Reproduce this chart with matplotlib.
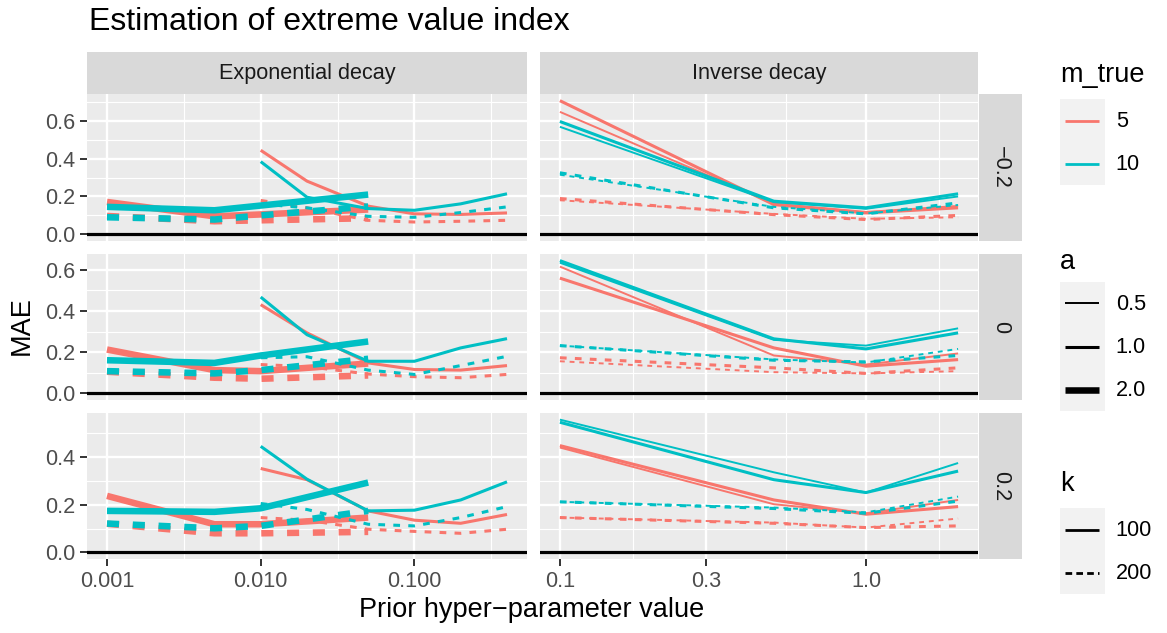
import matplotlib
matplotlib.use('Agg')
import matplotlib.pyplot as plt
import numpy as np
from matplotlib.lines import Line2D
from matplotlib.patches import Rectangle
from matplotlib.legend_handler import HandlerTuple, HandlerLine2D
from matplotlib.ticker import FixedLocator, NullFormatter

plt.rcParams['font.family'] = ['Liberation Sans', 'DejaVu Sans']

# ---- data (MAE by prior hyper-parameter value) ----
rows = ['\u22120.2', '0', '0.2']
cols = ['Exponential decay', 'Inverse decay']

# exponential decay grid depends on a
x_exp_a2 = [0.001, 0.005, 0.01, 0.05]
x_exp_a1 = [0.01, 0.02, 0.05, 0.1, 0.2, 0.4]
# inverse decay grid
x_inv = [0.1, 0.5, 1.0, 2.0]

# exponential, a = 2 (one list per row: -0.2, 0, 0.2)
exp_m5_k100_a2 = [[0.171, 0.095, 0.105, 0.131], [0.213, 0.113, 0.108, 0.145], [0.237, 0.118, 0.118, 0.146]]
exp_m10_k100_a2 = [[0.145, 0.127, 0.152, 0.210], [0.161, 0.148, 0.184, 0.252], [0.174, 0.170, 0.185, 0.293]]
exp_m5_k200_a2 = [[0.097, 0.069, 0.074, 0.085], [0.105, 0.076, 0.071, 0.087], [0.120, 0.080, 0.080, 0.086]]
exp_m10_k200_a2 = [[0.090, 0.078, 0.100, 0.147], [0.108, 0.097, 0.113, 0.168], [0.121, 0.101, 0.111, 0.174]]

# exponential, a = 1
exp_m5_k100_a1 = [[0.444, 0.281, 0.149, 0.108, 0.105, 0.113], [0.431, 0.294, 0.148, 0.116, 0.113, 0.135], [0.352, 0.305, 0.174, 0.135, 0.122, 0.159]]
exp_m10_k100_a1 = [[0.384, 0.196, 0.136, 0.127, 0.161, 0.214], [0.468, 0.285, 0.156, 0.156, 0.221, 0.266], [0.445, 0.307, 0.174, 0.177, 0.220, 0.296]]
exp_m5_k200_a1 = [[0.179, 0.140, 0.074, 0.065, 0.069, 0.074], [0.140, 0.130, 0.094, 0.081, 0.076, 0.092], [0.146, 0.135, 0.097, 0.088, 0.080, 0.097]]
exp_m10_k200_a1 = [[0.160, 0.140, 0.095, 0.090, 0.115, 0.145], [0.173, 0.178, 0.113, 0.092, 0.135, 0.180], [0.205, 0.180, 0.118, 0.111, 0.146, 0.192]]

# inverse, a = 1
inv_m5_k100_a1 = [[0.706, 0.157, 0.113, 0.140], [0.560, 0.221, 0.132, 0.164], [0.448, 0.220, 0.160, 0.192]]
inv_m10_k100_a1 = [[0.596, 0.175, 0.140, 0.214], [0.645, 0.265, 0.216, 0.294], [0.546, 0.305, 0.251, 0.341]]
inv_m5_k200_a1 = [[0.189, 0.104, 0.078, 0.100], [0.173, 0.124, 0.097, 0.124], [0.146, 0.122, 0.104, 0.111]]
inv_m10_k200_a1 = [[0.325, 0.140, 0.108, 0.166], [0.232, 0.161, 0.153, 0.184], [0.212, 0.184, 0.164, 0.215]]

# inverse, a = 0.5
inv_m5_k100_a05 = [[0.647, 0.162, 0.118, 0.150], [0.616, 0.184, 0.140, 0.194], [0.440, 0.202, 0.164, 0.220]]
inv_m10_k100_a05 = [[0.568, 0.170, 0.135, 0.200], [0.635, 0.260, 0.232, 0.316], [0.557, 0.336, 0.251, 0.375]]
inv_m5_k200_a05 = [[0.180, 0.108, 0.082, 0.090], [0.156, 0.103, 0.097, 0.108], [0.146, 0.125, 0.104, 0.142]]
inv_m10_k200_a05 = [[0.315, 0.145, 0.110, 0.155], [0.232, 0.165, 0.150, 0.216], [0.212, 0.188, 0.168, 0.234]]

# ---- styles ----
col = {5: '#F8766D', 10: '#00BFC4'}
lw = {0.5: 1.4, 1.0: 2.2, 2.0: 4.7}
dash = {0.5: (2.5, 2.5), 1.0: (2.2, 2.7), 2.0: (1.85, 2.1)}

def ls(k, a):
    return '-' if k == 100 else (0, dash[a])

exp_series = [  # (x, data, m, k, a)
    (x_exp_a2, exp_m5_k100_a2, 5, 100, 2.0), (x_exp_a2, exp_m5_k200_a2, 5, 200, 2.0),
    (x_exp_a1, exp_m5_k100_a1, 5, 100, 1.0), (x_exp_a1, exp_m5_k200_a1, 5, 200, 1.0),
    (x_exp_a2, exp_m10_k100_a2, 10, 100, 2.0), (x_exp_a2, exp_m10_k200_a2, 10, 200, 2.0),
    (x_exp_a1, exp_m10_k100_a1, 10, 100, 1.0), (x_exp_a1, exp_m10_k200_a1, 10, 200, 1.0),
]
inv_series = [
    (x_inv, inv_m5_k100_a05, 5, 100, 0.5), (x_inv, inv_m5_k200_a05, 5, 200, 0.5),
    (x_inv, inv_m5_k100_a1, 5, 100, 1.0), (x_inv, inv_m5_k200_a1, 5, 200, 1.0),
    (x_inv, inv_m10_k100_a05, 10, 100, 0.5), (x_inv, inv_m10_k200_a05, 10, 200, 0.5),
    (x_inv, inv_m10_k100_a1, 10, 100, 1.0), (x_inv, inv_m10_k200_a1, 10, 200, 1.0),
]

W, H = 1167, 633
fig = plt.figure(figsize=(W / 100, H / 100), dpi=100)

def box(l, t, r, b):
    return [l / W, 1 - b / H, (r - l) / W, (b - t) / H]

col_x = [(87, 527), (540, 978)]
row_y = [(94, 241), (254, 400), (413, 559)]

FS = 15.6
TICKC = '#4D4D4D'

xlim_exp = (10 ** (-3 - 0.05 * np.log10(400)), 10 ** (np.log10(0.4) + 0.05 * np.log10(400)))
xlim_inv = (10 ** (-1 - 0.05 * np.log10(20)), 10 ** (np.log10(2) + 0.05 * np.log10(20)))
xt_exp, xtl_exp, xm_exp = [0.001, 0.01, 0.1], ['0.001', '0.010', '0.100'], [10 ** -2.5, 10 ** -1.5, 10 ** -0.5]
xt_inv, xtl_inv, xm_inv = [0.1, 0.3, 1.0], ['0.1', '0.3', '1.0'], [np.sqrt(0.03), np.sqrt(0.3), np.sqrt(3)]

for r in range(3):
    hi = max(max(s[1][r]) for s in exp_series + inv_series)
    lo = 0.0
    pad = 0.05 * (hi - lo)
    ylim = (lo - pad, hi + pad)
    yt = [v for v in [0.0, 0.2, 0.4, 0.6] if ylim[0] <= v <= ylim[1]]
    ym = [v for v in [0.1, 0.3, 0.5, 0.7] if ylim[0] <= v <= ylim[1]]
    for c in range(2):
        ax = fig.add_axes(box(col_x[c][0], row_y[r][0], col_x[c][1], row_y[r][1]))
        ax.set_facecolor('#EBEBEB')
        for sp in ax.spines.values():
            sp.set_visible(False)
        ax.set_xscale('log')
        series = exp_series if c == 0 else inv_series
        ax.axhline(0, color='black', lw=2.3, zorder=2)
        for x, data, m, k, a in series:
            ax.plot(x, data[r], color=col[m], lw=lw[a], linestyle=ls(k, a),
                    solid_joinstyle='round', solid_capstyle='butt', dash_capstyle='butt',
                    dash_joinstyle='round', zorder=3)
        ax.set_xlim(*(xlim_exp if c == 0 else xlim_inv))
        ax.set_ylim(*ylim)
        xt, xtl, xm = (xt_exp, xtl_exp, xm_exp) if c == 0 else (xt_inv, xtl_inv, xm_inv)
        ax.xaxis.set_major_locator(FixedLocator(xt))
        ax.xaxis.set_minor_locator(FixedLocator(xm))
        ax.xaxis.set_minor_formatter(NullFormatter())
        ax.set_xticklabels(xtl if r == 2 else [''] * len(xt))
        ax.yaxis.set_major_locator(FixedLocator(yt))
        ax.yaxis.set_minor_locator(FixedLocator(ym))
        ax.set_yticklabels(['%.1f' % v for v in yt] if c == 0 else [''] * len(yt))
        ax.grid(which='major', color='white', lw=1.7, zorder=1)
        ax.grid(which='minor', color='white', lw=0.85, zorder=1)
        ax.set_axisbelow(True)
        ax.tick_params(which='minor', length=0)
        ax.tick_params(axis='x', which='major', length=4.9 if r == 2 else 0, width=1.4,
                       color='#333333', labelcolor=TICKC, labelsize=FS, pad=3.5)
        ax.tick_params(axis='y', which='major', length=4.9 if c == 0 else 0, width=1.4,
                       color='#333333', labelcolor=TICKC, labelsize=FS, pad=3.5)

# strips
for c in range(2):
    sx = fig.add_axes(box(col_x[c][0], 52, col_x[c][1], 94))
    sx.set_facecolor('#D9D9D9')
    sx.set_xticks([]); sx.set_yticks([])
    for sp in sx.spines.values():
        sp.set_visible(False)
    sx.text(0.5, 0.5, cols[c], ha='center', va='center', fontsize=FS, color='#1A1A1A',
            transform=sx.transAxes)
for r in range(3):
    sy = fig.add_axes(box(979, row_y[r][0], 1022, row_y[r][1]))
    sy.set_facecolor('#D9D9D9')
    sy.set_xticks([]); sy.set_yticks([])
    for sp in sy.spines.values():
        sp.set_visible(False)
    sy.text(0.5, 0.5, rows[r], ha='center', va='center', fontsize=FS, color='#1A1A1A',
            rotation=-90, transform=sy.transAxes)

# titles
fig.text(89 / W, 1 - 30 / H, 'Estimation of extreme value index', fontsize=23.0,
         ha='left', va='baseline')
fig.text(532 / W, 1 - 610 / H, 'Prior hyper\u2212parameter value', fontsize=19.5,
         ha='center', va='center')
fig.text(22 / W, 1 - 326 / H, 'MAE', fontsize=19.5, rotation=90, ha='center', va='center')


# legends
class CenteredLine(HandlerLine2D):
    # keep the key line in the middle of the grey key box
    def create_artists(self, legend, orig_handle, xdescent, ydescent, width, height, fontsize, trans):
        arts = super().create_artists(legend, orig_handle, xdescent, ydescent, width, height,
                                      fontsize, trans)
        for art in arts:
            yd = np.asarray(art.get_ydata(), float)
            if len(yd):
                art.set_ydata(np.full_like(yd, height / 2 - ydescent))
        return arts


def key(**kw):
    bg = Rectangle((0, 0), 1, 1, facecolor='#F2F2F2', edgecolor='none')
    return (bg, Line2D([], [], solid_capstyle='butt', dash_capstyle='butt', **kw))

leg_specs = [
    ('m_true', ['5', '10'], [key(color=col[5], lw=2.0), key(color=col[10], lw=2.0)], 62, 8),
    ('a', ['0.5', '1.0', '2.0'], [key(color='black', lw=lw[0.5]), key(color='black', lw=lw[1.0]),
                                  key(color='black', lw=lw[2.0])], 249, 5),
    ('k', ['100', '200'], [key(color='black', lw=2.0), key(color='black', lw=2.0, linestyle=(0, (2.4, 1.5)))], 471, 8),
]
for title, labels, handles, top, sep in leg_specs:
    leg = fig.legend(handles, labels, title=title, loc='upper left',
                     bbox_to_anchor=(1060 / W, 1 - top / H), frameon=False,
                     fontsize=FS, title_fontsize=19.5, handlelength=2.07, handleheight=2.68,
                     labelspacing=0, handletextpad=0.5, borderpad=0, borderaxespad=0,
                     alignment='left', numpoints=2,
                     handler_map={tuple: HandlerTuple(ndivide=1, pad=0),
                                  Line2D: CenteredLine(marker_pad=0.25, numpoints=2)})
    leg._legend_box.sep = sep

fig.savefig('out.png', dpi=100)
